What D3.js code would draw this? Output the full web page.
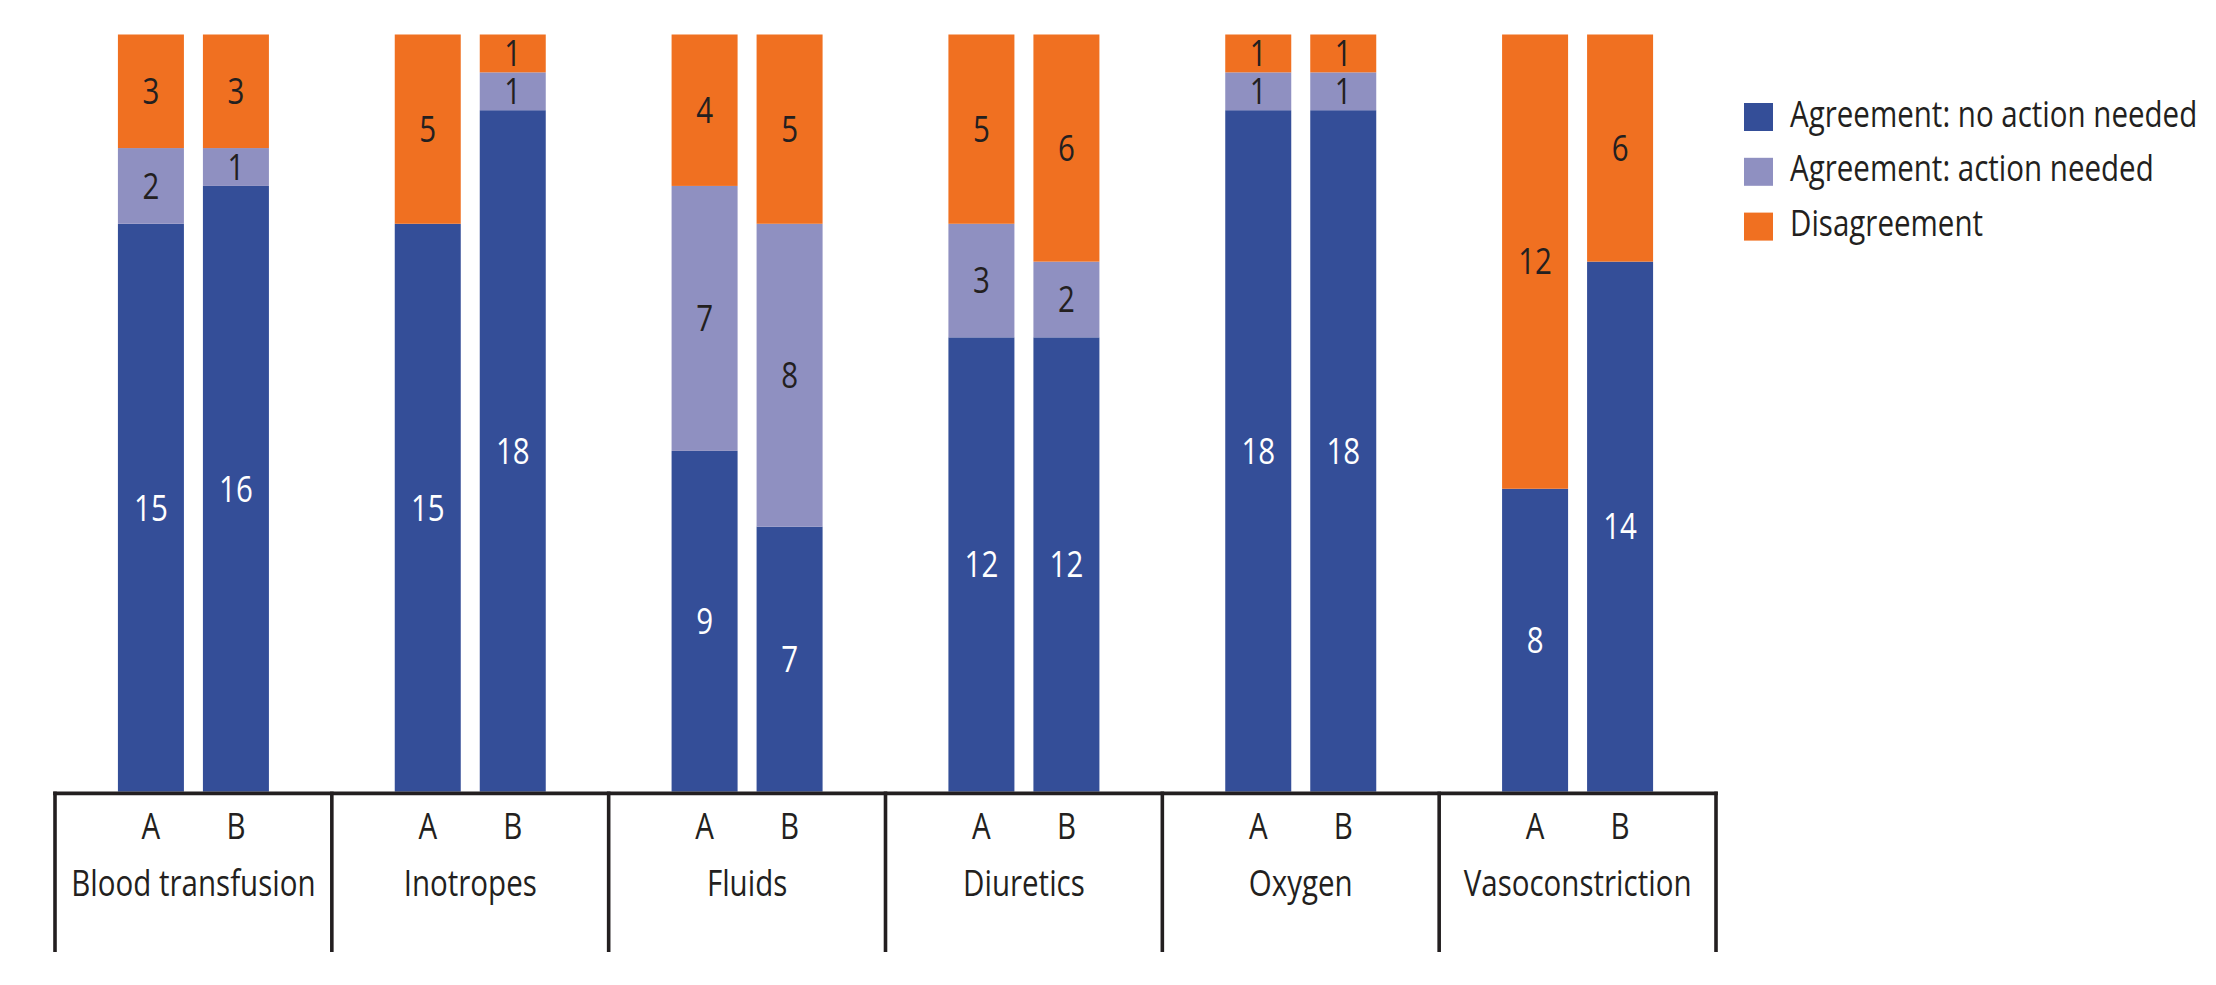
<!DOCTYPE html>
<html>
<head>
<meta charset="utf-8">
<script src="https://cdn.jsdelivr.net/npm/d3@7"></script>
<style>
  body { margin: 0; background: #fff; }
  svg text { font-family: "Open Sans", "Noto Sans", sans-serif; }
</style>
</head>
<body>
<script>
// Categories along the bottom
var categories = ["Blood transfusion", "Inotropes", "Fluids", "Diuretics", "Oxygen", "Vasoconstriction"];
// Two bars in each category
var rounds = ["A", "B"];

// Series values, one number per category
var noActionA = [15, 15, 9, 12, 18, 8];
var noActionB = [16, 18, 7, 12, 18, 14];
var actionA = [2, 0, 7, 3, 1, 0];
var actionB = [1, 1, 8, 2, 1, 0];
var disagreeA = [3, 5, 4, 5, 1, 12];
var disagreeB = [3, 1, 5, 6, 1, 6];

var seriesNames = ["Agreement: no action needed", "Agreement: action needed", "Disagreement"];
var seriesKeys = ["noAction", "action", "disagree"];
var seriesColors = ["#344e98", "#8f90c1", "#f07021"];
var labelColors = ["#ffffff", "#231f20", "#231f20"];

var width = 2216, height = 985;
var ink = "#231f20";
var fontSize = 36, squeeze = 0.82;

var svg = d3.select("body").append("svg").attr("width", width).attr("height", height);

// build rows for the stack
var rows = [];
for (var i = 0; i < categories.length; ++i) {
    rows.push({cat: categories[i], round: "A", noAction: noActionA[i], action: actionA[i], disagree: disagreeA[i]});
    rows.push({cat: categories[i], round: "B", noAction: noActionB[i], action: actionB[i], disagree: disagreeB[i]});
}
var stacked = d3.stack().keys(seriesKeys)(rows);

// Scales
var x0 = d3.scaleBand().domain(categories).range([55, 1716]).padding(0);
var half = x0.bandwidth() / 2;
var x1 = d3.scaleBand().domain(rounds).range([half - 85, half + 85]).paddingInner(0.2235).paddingOuter(0.11175);
var y = d3.scaleLinear().domain([0, 20]).range([791.6, 34.5]);

function squeezedText(sel, x, yy) {
    return sel.append("text")
        .attr("transform", "translate(" + x + "," + yy + ") scale(" + squeeze + ",1)")
        .style("font-size", fontSize + "px");
}

// Bars
stacked.forEach(function(layer, s) {
    var g = svg.append("g");
    layer.forEach(function(d) {
        var row = d.data;
        var bx = x0(row.cat) + x1(row.round);
        var v = d[1] - d[0];
        if (v <= 0) return;
        g.append("rect")
            .attr("x", bx)
            .attr("y", y(d[1]))
            .attr("width", x1.bandwidth())
            .attr("height", y(d[0]) - y(d[1]))
            .style("fill", seriesColors[s]);
        squeezedText(g, bx + x1.bandwidth() / 2, (y(d[0]) + y(d[1])) / 2 + 0.357 * fontSize)
            .attr("text-anchor", "middle")
            .style("fill", labelColors[s])
            .text(v);
    });
});

// Bottom table frame
var frame = svg.append("g").style("stroke", ink).style("stroke-width", 3.6).style("fill", "none");
frame.append("line")
    .attr("x1", x0.range()[0] - 1.8).attr("x2", x0.range()[1] + 1.8)
    .attr("y1", 793.4).attr("y2", 793.4);
var edges = categories.map(function(c) { return x0(c); }).concat([x0.range()[1]]);
edges.forEach(function(ex) {
    frame.append("line").attr("x1", ex).attr("x2", ex).attr("y1", 791.6).attr("y2", 952);
});

// Axis labels
categories.forEach(function(c) {
    rounds.forEach(function(r) {
        squeezedText(svg, x0(c) + x1(r) + x1.bandwidth() / 2, 839)
            .attr("text-anchor", "middle").style("fill", ink).text(r);
    });
    squeezedText(svg, x0(c) + half, 896)
        .attr("text-anchor", "middle").style("fill", ink).text(c);
});

// Legend
var legend = svg.append("g");
seriesNames.forEach(function(name, s) {
    legend.append("rect")
        .attr("x", 1744).attr("y", 103 + s * 54.8)
        .attr("width", 29).attr("height", 28)
        .style("fill", seriesColors[s]);
    squeezedText(legend, 1790, 127 + s * 54.3)
        .style("fill", ink).text(name);
});
</script>
</body>
</html>
